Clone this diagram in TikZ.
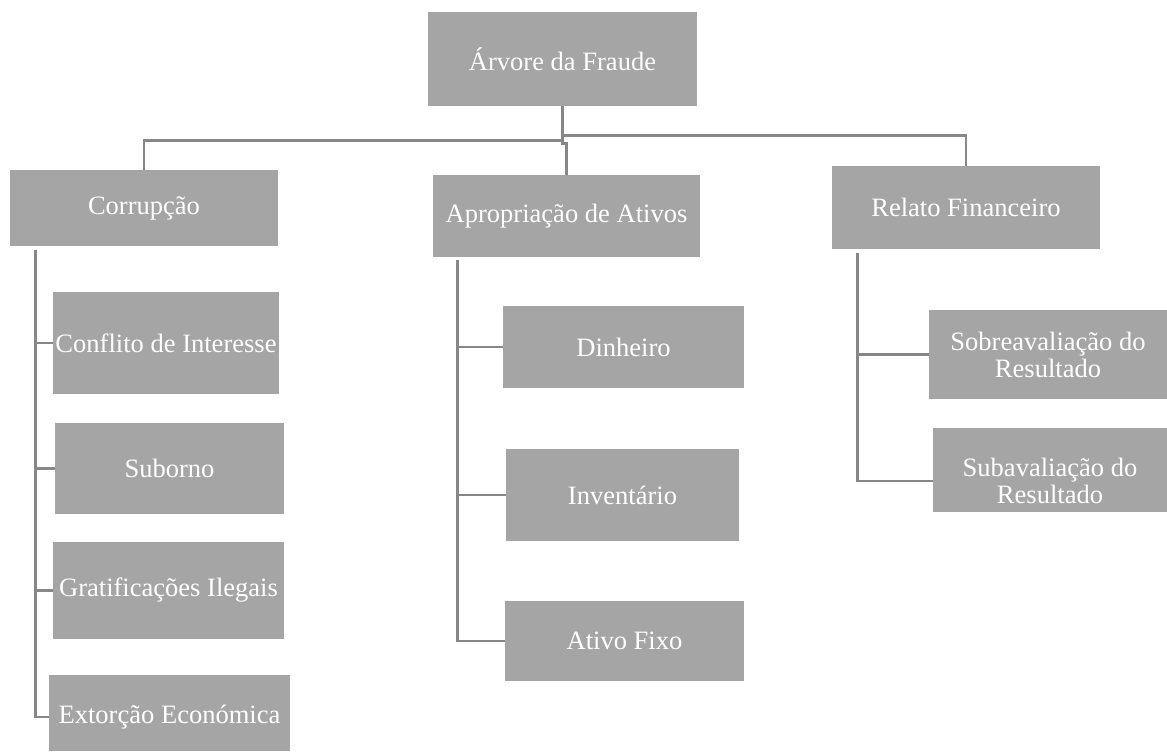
\documentclass[tikz,border=0pt]{standalone}
\usepackage{fontspec}
\setmainfont{Liberation Serif}
\usetikzlibrary{calc}
\definecolor{boxgray}{HTML}{A5A5A5}
\definecolor{linegray}{HTML}{878787}
\begin{document}
\begin{tikzpicture}[x=0.75pt,y=-0.75pt,
  labelfont/.style={font=\fontsize{19.9}{20.3}\selectfont},
  gbox/.style={fill=boxgray, text=white, inner sep=0pt, align=center, labelfont},
  gtext/.style={text=white, inner sep=0pt, align=center, labelfont},
  sz/.style 2 args={minimum width=#1*0.75pt, minimum height=#2*0.75pt},
  conn/.style={draw=linegray, line width=2pt}]
\useasboundingbox (0,0) rectangle (1167,751);

% top level
\node[gbox, sz={269}{94}] (root) at (562.5,59) {Árvore da Fraude};

% second level
\node[gbox, sz={268}{76}] (cor) at (144,208) {Corrupção};
\node[gbox, sz={267}{82}] (apr) at (566.5,216) {Apropriação de Ativos};
\node[gbox, sz={268}{83}] (rel) at (966,207.5) {Relato Financeiro};

% corruption branch
\node[gbox, sz={226}{102}] (conf) at (166,343) {Conflito de Interesse};
\node[gbox, sz={229}{91}] (subo) at (169.5,468.5) {Suborno};
\node[gbox, sz={231}{97}] (grat) at (168.5,590.5) {Gratificações Ilegais};
\node[gbox, sz={241}{76}] (ext) at (169.5,713) {};
\node[gtext] (extt) at (169.5,717) {Extorção Económica};

% asset misappropriation branch
\node[gbox, sz={241}{82}] (din) at (623.5,347) {Dinheiro};
\node[gbox, sz={233}{92}] (inv) at (622.5,495) {Inventário};
\node[gbox, sz={239}{80}] (ati) at (624.5,641) {Ativo Fixo};

% financial reporting branch
\node[gbox, sz={238}{89}] (sob) at (1048,354.5) {Sobreavaliação do\\Resultado};
\node[gbox, sz={234}{84}] (suba) at (1050,470) {};
\node[gtext] (subat) at (1050,481) {Subavaliação do\\Resultado};

% connectors from the root
\draw[conn] (root.south) -- ++(0,34) -| (cor.north);
\draw[conn] (root.south) -- ++(0,29) -| (rel.north);
\draw[conn] (root.south) -- ++(0,37) -| (apr.north);

% corruption trunk
\coordinate (cortr) at ($(cor.south west)+(26,4)$);
\draw[conn] (cortr) |- (ext.west |- extt.center);
\draw[conn] (conf.west) -- (conf.west -| cortr);
\draw[conn] (subo.west) -- (subo.west -| cortr);
\draw[conn] (grat.west) -- (grat.west -| cortr);

% asset trunk
\coordinate (aprtr) at ($(apr.south west)+(25,3)$);
\draw[conn] (aprtr) |- (ati.west);
\draw[conn] (din.west) -- (din.west -| aprtr);
\draw[conn] (inv.west) -- (inv.west -| aprtr);

% reporting trunk
\coordinate (reltr) at ($(rel.south west)+(26,4)$);
\draw[conn] (reltr) |- (suba.west |- subat.center);
\draw[conn] (sob.west) -- (sob.west -| reltr);
\end{tikzpicture}
\end{document}
